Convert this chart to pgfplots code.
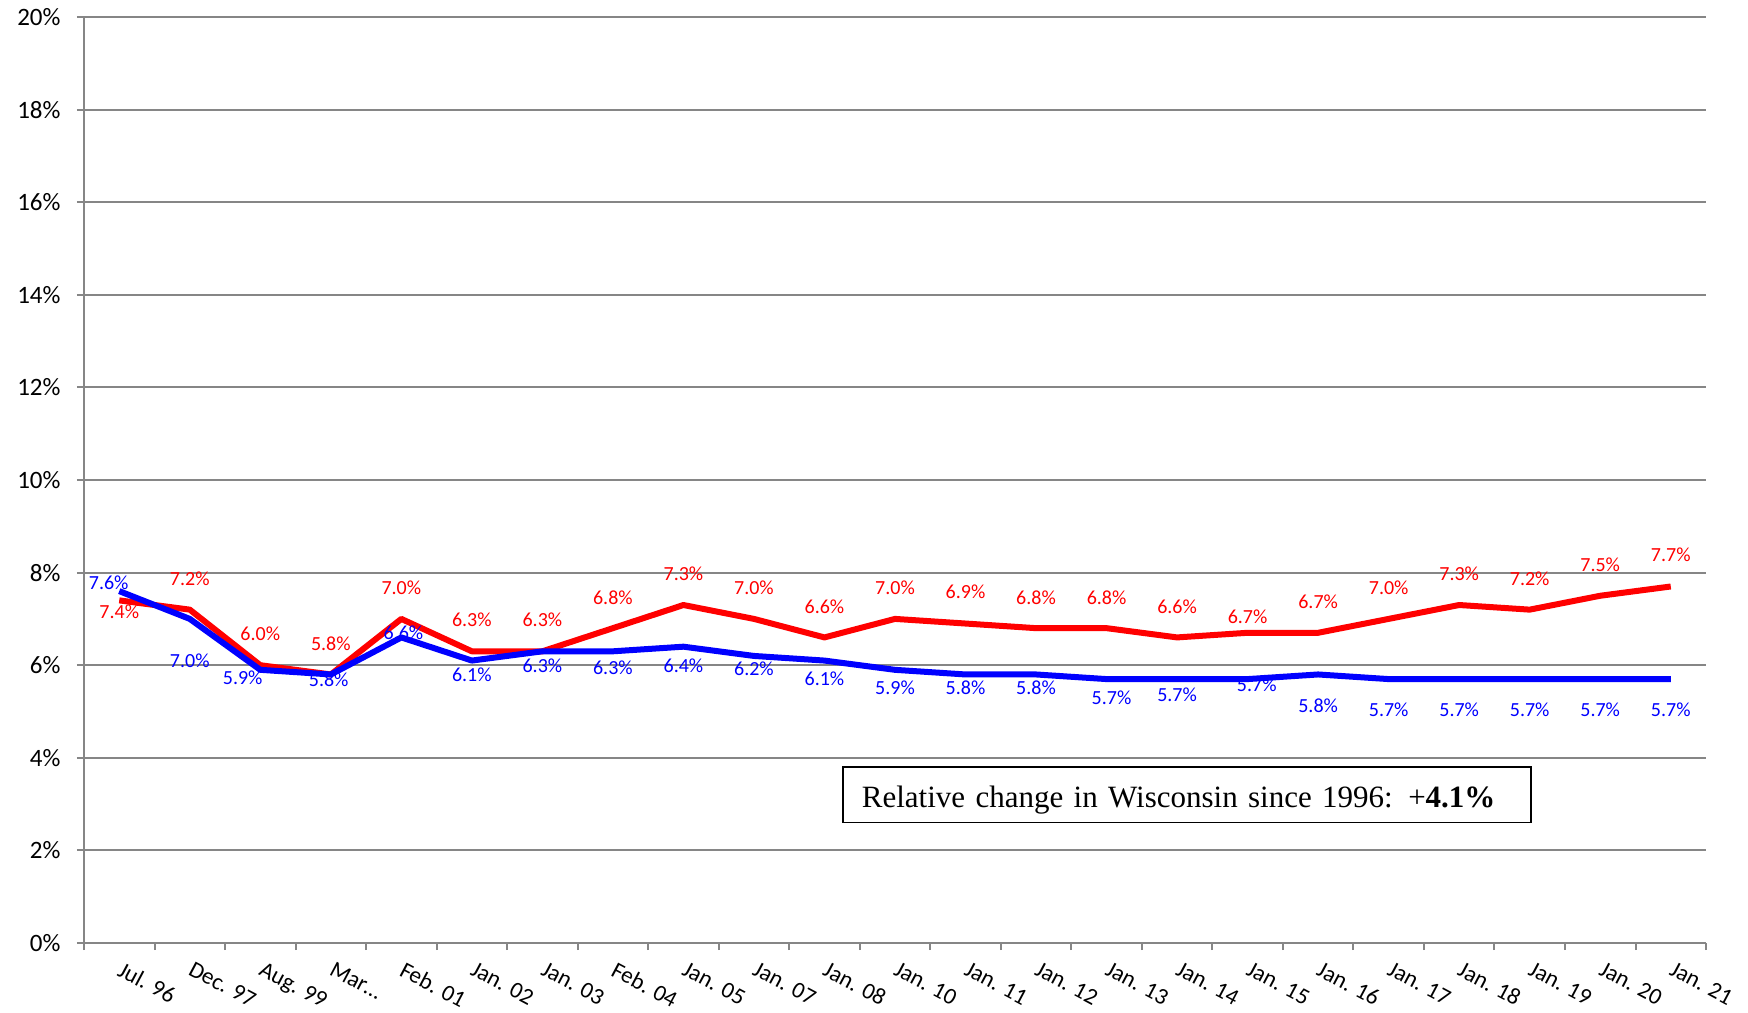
\documentclass[border=0pt]{standalone}
\usepackage{pgfplots}
\pgfplotsset{compat=1.18}
\usepackage{pgfplotstable}
\usepackage{fontspec}
\setmainfont{Carlito}
\newfontfamily\timesfont{Liberation Serif}
\definecolor{gridgray}{RGB}{134,134,134}
\definecolor{sred}{RGB}{255,0,0}
\definecolor{sblue}{RGB}{0,0,255}

\pgfplotstableread{
x red blue
0 7.4 7.6
1 7.2 7.0
2 6.0 5.9
3 5.8 5.8
4 7.0 6.6
5 6.3 6.1
6 6.3 6.3
7 6.8 6.3
8 7.3 6.4
9 7.0 6.2
10 6.6 6.1
11 7.0 5.9
12 6.9 5.8
13 6.8 5.8
14 6.8 5.7
15 6.6 5.7
16 6.7 5.7
17 6.7 5.8
18 7.0 5.7
19 7.3 5.7
20 7.2 5.7
21 7.5 5.7
22 7.7 5.7
}\datatable

\pgfplotstableread{
x y lab
0 7.15 7.4
1 7.87 7.2
2 6.67 6.0
3 6.47 5.8
4 7.68 7.0
5 6.98 6.3
6 6.98 6.3
7 7.46 6.8
8 7.97 7.3
9 7.68 7.0
10 7.27 6.6
11 7.68 7.0
12 7.58 6.9
13 7.46 6.8
14 7.46 6.8
15 7.27 6.6
16 7.05 6.7
17 7.36 6.7
18 7.68 7.0
19 7.97 7.3
20 7.87 7.2
21 8.18 7.5
22 8.38 7.7
}\redlabels

\pgfplotstableread{
x y lab
-0.15 7.77 7.6
1 6.09 7.0
1.75 5.73 5.9
2.97 5.68 5.8
4.03 6.71 6.6
5 5.80 6.1
6 5.99 6.3
7 5.94 6.3
8 5.99 6.4
9 5.92 6.2
10 5.70 6.1
11 5.51 5.9
12 5.51 5.8
13 5.51 5.8
14.07 5.29 5.7
15 5.37 5.7
16.13 5.58 5.7
17 5.13 5.8
18 5.03 5.7
19 5.03 5.7
20 5.03 5.7
21 5.03 5.7
22 5.03 5.7
}\bluelabels

\begin{document}
\begin{tikzpicture}
\useasboundingbox (-42pt,-34.5pt) rectangle (832pt,471.5pt);
\begin{axis}[
  at={(0,0)}, anchor=south west,
  scale only axis,
  width=811pt, height=463pt,
  xmin=-0.5, xmax=22.5,
  ymin=0, ymax=20,
  axis lines=left,
  axis line style={draw=gridgray, line width=1pt, -},
  clip=false,
  xtick={0,...,22},
  xticklabels={Jul. 96, Dec. 97, Aug. 99, Mar…, Feb. 01, Jan. 02, Jan. 03, Feb. 04, Jan. 05, Jan. 07, Jan. 08, Jan. 10, Jan. 11, Jan. 12, Jan. 13, Jan. 14, Jan. 15, Jan. 16, Jan. 17, Jan. 18, Jan. 19, Jan. 20, Jan. 21},
  major x tick style={draw=none},
  minor xtick={-0.5,0.5,...,22.5},
  minor x tick style={draw=gridgray, line width=1pt},
  minor tick length=3.5pt,
  major tick length=3.5pt,
  tick align=outside,
  ytick={0,2,...,20},
  y tick style={draw=gridgray, line width=1pt},
  yticklabel={\pgfmathprintnumber{\tick}\%},
  /pgf/number format/assume math mode=true,
  ymajorgrids,
  grid style={draw=gridgray, line width=1pt},
  xticklabel style={font=\fontsize{11.6}{13}\selectfont, xshift=2pt, yshift=-4.5pt, rotate=-28, anchor=north west, inner sep=0.5pt},
  yticklabel style={font=\fontsize{12.5}{14}\selectfont, xshift=-4.7pt},
]
\addplot[sred, line width=3pt, line join=round] table[x=x, y=red] {\datatable};
\addplot[sblue, line width=3pt, line join=round] table[x=x, y=blue] {\datatable};
\addplot[draw=none, mark=none, point meta=explicit symbolic,
  nodes near coords={\pgfplotspointmeta\%},
  nodes near coords style={anchor=center, text=sred, font=\fontsize{10}{12}\selectfont, inner sep=0pt}]
  table[x=x, y=y, meta=lab] {\redlabels};
\addplot[draw=none, mark=none, point meta=explicit symbolic,
  nodes near coords={\pgfplotspointmeta\%},
  nodes near coords style={anchor=center, text=sblue, font=\fontsize{10}{12}\selectfont, inner sep=0pt}]
  table[x=x, y=y, meta=lab] {\bluelabels};
\node[draw=black, line width=0.8pt, anchor=west, inner xsep=9.5pt, inner ysep=0pt, text width=325pt, text height=20pt, text depth=7.8pt, font=\timesfont\fontsize{15.5}{18}\selectfont] at (axis cs:10.25,3.2) {Relative change in Wisconsin since 1996: +\textbf{4.1\%}};
\end{axis}
\end{tikzpicture}
\end{document}
